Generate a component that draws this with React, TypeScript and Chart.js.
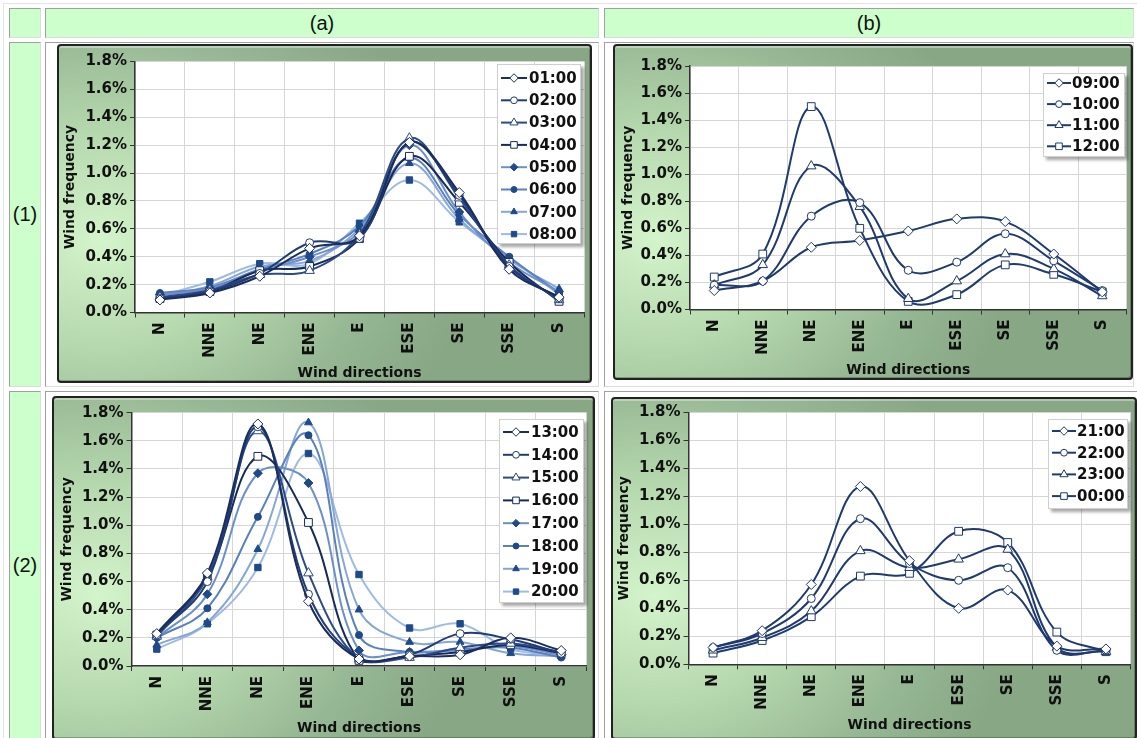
import React, { useEffect, useRef } from 'react';
import { Chart, registerables } from 'chart.js';

Chart.register(...registerables);

// ---------- data ----------
const directions = ['N', 'NNE', 'NE', 'ENE', 'E', 'ESE', 'SE', 'SSE', 'S'];
const yMin = 0;
const yMax = 1.8;
const yStep = 0.2;

const hoursA1 = ['01:00', '02:00', '03:00', '04:00', '05:00', '06:00', '07:00', '08:00'];
const h0100 = [0.09, 0.14, 0.26, 0.46, 0.55, 1.22, 0.86, 0.31, 0.11];
const h0200 = [0.10, 0.15, 0.28, 0.50, 0.53, 1.22, 0.84, 0.33, 0.10];
const h0300 = [0.11, 0.16, 0.27, 0.30, 0.56, 1.25, 0.82, 0.34, 0.09];
const h0400 = [0.10, 0.15, 0.30, 0.33, 0.53, 1.12, 0.79, 0.36, 0.08];
const h0500 = [0.13, 0.17, 0.30, 0.40, 0.58, 1.20, 0.72, 0.36, 0.15];
const h0600 = [0.14, 0.18, 0.31, 0.42, 0.62, 1.11, 0.70, 0.40, 0.14];
const h0700 = [0.12, 0.19, 0.33, 0.37, 0.60, 1.07, 0.67, 0.38, 0.17];
const h0800 = [0.12, 0.22, 0.35, 0.35, 0.64, 0.95, 0.65, 0.39, 0.13];

const hoursB1 = ['09:00', '10:00', '11:00', '12:00'];
const h0900 = [0.14, 0.21, 0.46, 0.51, 0.58, 0.67, 0.65, 0.41, 0.13];
const h1000 = [0.18, 0.21, 0.69, 0.79, 0.29, 0.35, 0.56, 0.36, 0.14];
const h1100 = [0.18, 0.33, 1.06, 0.76, 0.08, 0.21, 0.41, 0.30, 0.10];
const h1200 = [0.24, 0.41, 1.50, 0.60, 0.06, 0.11, 0.33, 0.26, 0.13];

const hoursA2 = ['13:00', '14:00', '15:00', '16:00', '17:00', '18:00', '19:00', '20:00'];
const h1300 = [0.23, 0.66, 1.72, 0.46, 0.05, 0.07, 0.08, 0.20, 0.11];
const h1400 = [0.22, 0.60, 1.70, 0.51, 0.06, 0.08, 0.23, 0.19, 0.09];
const h1500 = [0.21, 0.63, 1.67, 0.66, 0.05, 0.06, 0.13, 0.16, 0.10];
const h1600 = [0.22, 0.64, 1.49, 1.02, 0.04, 0.07, 0.10, 0.15, 0.09];
const h1700 = [0.20, 0.51, 1.37, 1.30, 0.11, 0.10, 0.11, 0.14, 0.08];
const h1800 = [0.20, 0.41, 1.06, 1.64, 0.22, 0.10, 0.12, 0.13, 0.06];
const h1900 = [0.15, 0.31, 0.83, 1.73, 0.40, 0.17, 0.17, 0.09, 0.07];
const h2000 = [0.12, 0.30, 0.70, 1.51, 0.65, 0.27, 0.30, 0.12, 0.08];

const hoursB2 = ['21:00', '22:00', '23:00', '00:00'];
const h2100 = [0.12, 0.24, 0.57, 1.27, 0.74, 0.40, 0.53, 0.13, 0.11];
const h2200 = [0.12, 0.22, 0.47, 1.04, 0.72, 0.60, 0.69, 0.10, 0.10];
const h2300 = [0.10, 0.19, 0.38, 0.81, 0.69, 0.75, 0.82, 0.12, 0.09];
const h0000 = [0.08, 0.17, 0.34, 0.63, 0.65, 0.95, 0.87, 0.23, 0.09];

// ---------- styles ----------
const FONT = "'DejaVu Sans', Verdana, Arial, sans-serif";
const NAVY = '#1F3A6E';
const MARK = '#1F4A8A';

type Sty = { line: string; style: string; fill: string; stroke: string; r: number };
const wm = (line: string, style: string, r: number): Sty => ({ line, style, fill: '#ffffff', stroke: line, r });
const fm = (line: string, style: string, r: number): Sty => ({ line, style, fill: MARK, stroke: MARK, r });

const stylesA = [
  wm('#1A2E5C', 'rectRot', 5), wm('#203B76', 'circle', 4), wm('#2B4A86', 'triangle', 5.5), wm('#162B57', 'rect', 5.5),
  fm('#6B90C9', 'rectRot', 4.5), fm('#5A80BF', 'circle', 3.5), fm('#86A7D6', 'triangle', 4.5), fm('#9FBBE2', 'rect', 4.5),
];
const stylesB = [wm(NAVY, 'rectRot', 5), wm(NAVY, 'circle', 4), wm(NAVY, 'triangle', 5.5), wm(NAVY, 'rect', 5.5)];

const panels = [
  {
    key: '1a', frame: { x: 57, y: 44, w: 535, h: 339 }, area: { l: 135, r: 584, t: 61.5, b: 312.5 },
    xTitleY: 373, yTitleX: 70,
    legend: { x: 497, y: 64, w: 84, h: 180, row0: 78, gap: 22.3, lx0: 501, lx1: 527, tx: 529, fs: 15 },
    labels: hoursA1, values: [h0100, h0200, h0300, h0400, h0500, h0600, h0700, h0800], styles: stylesA,
  },
  {
    key: '1b', frame: { x: 613, y: 44, w: 520, h: 336 }, area: { l: 690, r: 1130, t: 66, b: 309.5 },
    xTitleY: 370, yTitleX: 628,
    legend: { x: 1043, y: 73, w: 82, h: 84, row0: 83, gap: 21.1, lx0: 1047, lx1: 1071, tx: 1072, fs: 15 },
    labels: hoursB1, values: [h0900, h1000, h1100, h1200], styles: stylesB,
  },
  {
    key: '2a', frame: { x: 52, y: 396, w: 543, h: 344 }, area: { l: 131.5, r: 586.5, t: 412.7, b: 666 },
    xTitleY: 728, yTitleX: 67,
    legend: { x: 499, y: 419, w: 85, h: 184, row0: 432, gap: 22.8, lx0: 503, lx1: 529, tx: 531, fs: 15 },
    labels: hoursA2, values: [h1300, h1400, h1500, h1600, h1700, h1800, h1900, h2000], styles: stylesA,
  },
  {
    key: '2b', frame: { x: 611, y: 397, w: 526, h: 343 }, area: { l: 688.5, r: 1134, t: 412.3, b: 664.3 },
    xTitleY: 725, yTitleX: 624,
    legend: { x: 1048, y: 419, w: 80, h: 90, row0: 431, gap: 21.7, lx0: 1052, lx1: 1076, tx: 1077, fs: 15 },
    labels: hoursB2, values: [h2100, h2200, h2300, h0000], styles: stylesB,
  },
];

// ---------- plugins ----------
function drawMarker(ctx: CanvasRenderingContext2D, style: string, x: number, y: number, r: number, fill: string, stroke: string) {
  ctx.save();
  ctx.beginPath();
  if (style === 'circle') ctx.arc(x, y, r, 0, Math.PI * 2);
  else if (style === 'rect') { const s = r * Math.SQRT1_2; ctx.rect(x - s, y - s, 2 * s, 2 * s); }
  else if (style === 'rectRot') { ctx.moveTo(x, y - r); ctx.lineTo(x + r, y); ctx.lineTo(x, y + r); ctx.lineTo(x - r, y); ctx.closePath(); }
  else if (style === 'triangle') {
    const c = Math.cos(Math.PI / 6) * r;
    ctx.moveTo(x, y - r); ctx.lineTo(x + c, y + r / 2); ctx.lineTo(x - c, y + r / 2); ctx.closePath();
  }
  ctx.fillStyle = fill; ctx.fill();
  ctx.lineWidth = 1; ctx.strokeStyle = stroke; ctx.stroke();
  ctx.restore();
}

const plotBg = {
  id: 'plotBg',
  beforeDraw(chart: any) {
    const { ctx, chartArea } = chart;
    ctx.save();
    ctx.fillStyle = '#ffffff';
    ctx.fillRect(chartArea.left, chartArea.top, chartArea.right - chartArea.left, chartArea.bottom - chartArea.top);
    ctx.restore();
  },
};

const boxLegend = {
  id: 'boxLegend',
  afterDraw(chart: any, _args: any, opts: any) {
    const L = opts && opts.box;
    if (!L) return;
    const ctx: CanvasRenderingContext2D = chart.ctx;
    ctx.save();
    ctx.shadowColor = 'rgba(0,0,0,0.35)';
    ctx.shadowBlur = 3; ctx.shadowOffsetX = 3; ctx.shadowOffsetY = 3;
    ctx.fillStyle = '#ffffff';
    ctx.fillRect(L.x, L.y, L.w, L.h);
    ctx.shadowColor = 'transparent';
    ctx.strokeStyle = '#cfcfcf'; ctx.lineWidth = 1;
    ctx.strokeRect(L.x + 0.5, L.y + 0.5, L.w - 1, L.h - 1);
    chart.data.datasets.forEach((ds: any, i: number) => {
      const y = L.row0 + i * L.gap;
      ctx.strokeStyle = ds.borderColor; ctx.lineWidth = 2;
      ctx.beginPath(); ctx.moveTo(L.lx0, y); ctx.lineTo(L.lx1, y); ctx.stroke();
      drawMarker(ctx, ds.pointStyle, (L.lx0 + L.lx1) / 2, y, ds.pointRadius * 0.85, ds.pointBackgroundColor, ds.pointBorderColor);
      ctx.fillStyle = '#111111';
      ctx.font = `bold ${L.fs}px ${FONT}`;
      ctx.textBaseline = 'middle'; ctx.textAlign = 'left';
      ctx.fillText(ds.label, L.tx, y + 1);
    });
    ctx.restore();
  },
};

// ---------- chart panel ----------
function Panel({ p }: { p: any }) {
  const ref = useRef<HTMLCanvasElement | null>(null);
  useEffect(() => {
    const f = p.frame;
    const a = p.area;
    const titleSize = 14;
    const titleLH = titleSize * 1.2;
    const yAxisW = a.l - f.x;
    const xAxisH = f.y + f.h - a.b;
    const xTitlePad = f.y + f.h - p.xTitleY - titleLH / 2;
    const yTitlePad = p.yTitleX - f.x - titleLH / 2;
    const lg = p.legend;
    const datasets = p.labels.map((lab: string, i: number) => {
      const st = p.styles[i];
      return {
        label: lab,
        data: p.values[i],
        borderColor: st.line,
        backgroundColor: st.line,
        borderWidth: 2,
        tension: 0.38,
        fill: false,
        pointStyle: st.style,
        pointRadius: st.r,
        pointBackgroundColor: st.fill,
        pointBorderColor: st.stroke,
        pointBorderWidth: 1,
      };
    });
    const tickFont = { family: FONT, size: 15, weight: 'bold' as const };
    const titleFont = { family: FONT, size: titleSize, weight: 'bold' as const };
    const chart = new Chart(ref.current as HTMLCanvasElement, {
      type: 'line',
      data: { labels: directions, datasets },
      options: {
        animation: false,
        responsive: false,
        maintainAspectRatio: false,
        devicePixelRatio: 1,
        layout: { padding: { left: 0, top: a.t - f.y, right: f.x + f.w - a.r, bottom: 0 } },
        plugins: {
          legend: { display: false },
          tooltip: { enabled: false },
          boxLegend: {
            box: {
              x: lg.x - f.x, y: lg.y - f.y, w: lg.w, h: lg.h,
              row0: lg.row0 - f.y, gap: lg.gap, lx0: lg.lx0 - f.x, lx1: lg.lx1 - f.x, tx: lg.tx - f.x, fs: lg.fs,
            },
          },
        } as any,
        scales: {
          x: {
            type: 'category',
            offset: true,
            grid: { offset: true, color: '#d6d6d6', lineWidth: 1, tickColor: '#333333', tickLength: 5 },
            border: { color: '#333333', width: 1.5 },
            ticks: { autoSkip: false, minRotation: 90, maxRotation: 90, font: tickFont, color: '#111111', padding: 5 },
            title: { display: true, text: 'Wind directions', font: titleFont, color: '#111111', padding: { top: 0, bottom: xTitlePad } },
            afterFit: (s: any) => { s.height = xAxisH; },
          },
          y: {
            min: yMin,
            max: yMax,
            ticks: {
              stepSize: yStep,
              font: tickFont,
              color: '#111111',
              padding: 3,
              callback: (v: any) => Number(v).toFixed(1) + '%',
            },
            grid: { color: '#d6d6d6', lineWidth: 1, tickColor: '#333333', tickLength: 5 },
            border: { color: '#333333', width: 1.5 },
            title: { display: true, text: 'Wind frequency', font: titleFont, color: '#111111', padding: { top: yTitlePad, bottom: 0 } },
            afterFit: (s: any) => { s.width = yAxisW; },
          },
        },
      },
      plugins: [plotBg, boxLegend],
    } as any);
    return () => chart.destroy();
  }, [p]);

  const f = p.frame;
  return (
    <>
      <div
        style={{
          position: 'absolute', left: f.x, top: f.y, width: f.w, height: f.h, boxSizing: 'border-box',
          border: '2px solid #222', borderRadius: 4,
          background: 'radial-gradient(ellipse 70% 85% at 8% 58%, #d4f4cc 0%, #b6d8ae 38%, #97b894 72%, #87a785 100%)',
          boxShadow: 'inset 0 2px 0 rgba(255,255,255,0.35), inset -1px -1px 0 rgba(0,0,0,0.25)',
        }}
      />
      <canvas
        ref={ref}
        width={f.w}
        height={f.h}
        style={{ position: 'absolute', left: f.x, top: f.y, width: f.w, height: f.h }}
      />
    </>
  );
}

// ---------- page layout ----------
const cells = [
  { x: 9, y: 8, w: 32, h: 30, g: true },
  { x: 45, y: 8, w: 554, h: 30, g: true },
  { x: 604, y: 8, w: 530, h: 30, g: true },
  { x: 9, y: 42, w: 32, h: 345, g: true },
  { x: 45, y: 42, w: 554, h: 345, g: false },
  { x: 604, y: 42, w: 530, h: 345, g: false },
  { x: 9, y: 391, w: 32, h: 360, g: true },
  { x: 45, y: 391, w: 554, h: 360, g: false },
  { x: 604, y: 391, w: 540, h: 360, g: false },
];

const headTexts = [
  { t: '(a)', x: 45, y: 8, w: 554, h: 30 },
  { t: '(b)', x: 604, y: 8, w: 530, h: 30 },
  { t: '(1)', x: 9, y: 42, w: 32, h: 345 },
  { t: '(2)', x: 9, y: 391, w: 32, h: 348 },
];

export default function App() {
  return (
    <div style={{ position: 'absolute', left: 0, top: 0, width: 1137, height: 738, overflow: 'hidden', background: '#ffffff' }}>
      <div style={{ position: 'absolute', left: 3, top: 3, width: 1140, height: 740, borderLeft: '1px solid #e4e4e4', borderTop: '1px solid #e4e4e4' }} />
      {cells.map((c, i) => (
        <div
          key={i}
          style={{
            position: 'absolute', left: c.x, top: c.y, width: c.w, height: c.h, boxSizing: 'border-box',
            background: c.g ? '#CCFFCC' : '#ffffff',
            borderTop: '1px solid #a0a0a0', borderLeft: '1px solid #a0a0a0',
            borderRight: '1px solid #dcdcdc', borderBottom: '1px solid #dcdcdc',
          }}
        />
      ))}
      {headTexts.map((t, i) => (
        <div
          key={'t' + i}
          style={{
            position: 'absolute', left: t.x, top: t.y, width: t.w, height: t.h,
            display: 'flex', alignItems: 'center', justifyContent: 'center',
            fontFamily: "'Liberation Sans', Arial, sans-serif", fontSize: 20, color: '#111',
          }}
        >
          {t.t}
        </div>
      ))}
      {panels.map((p) => <Panel key={p.key} p={p} />)}
    </div>
  );
}
